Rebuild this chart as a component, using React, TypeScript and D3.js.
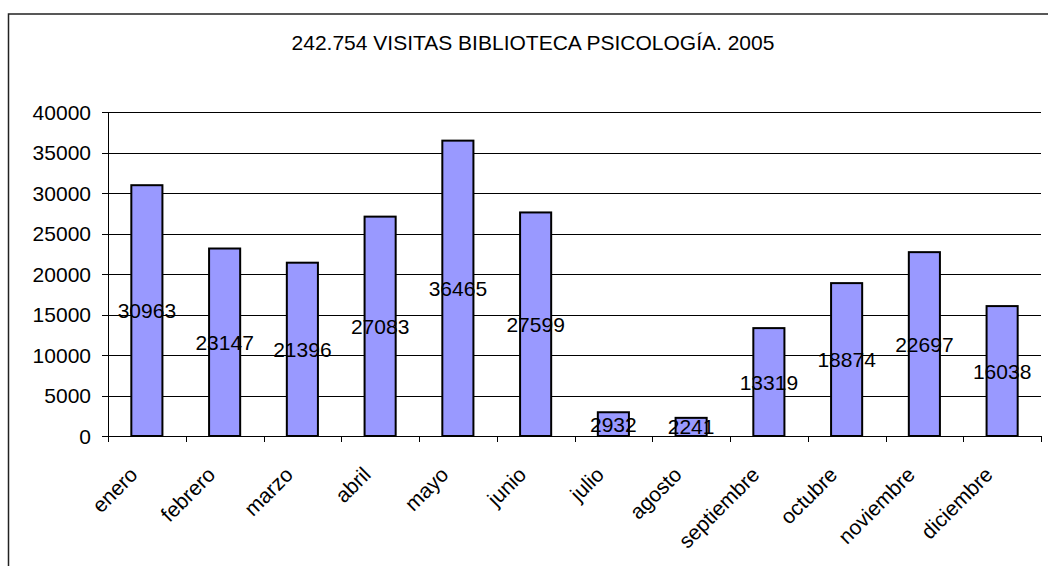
import React from "react";
import * as d3 from "d3";

const months = ["enero", "febrero", "marzo", "abril", "mayo", "junio", "julio", "agosto", "septiembre", "octubre", "noviembre", "diciembre"];
const visits = [30963, 23147, 21396, 27083, 36465, 27599, 2932, 2241, 13319, 18874, 22697, 16038];
const yTicks = [0, 5000, 10000, 15000, 20000, 25000, 30000, 35000, 40000];
const title = "242.754 VISITAS BIBLIOTECA PSICOLOGÍA. 2005";

const W = 1048, H = 566;
const left = 108, right = 1041, top = 112, bottom = 436;
const FONT = "'Liberation Sans', Arial, sans-serif";
const FS = 21;

export default function App() {
  const x = d3.scaleBand<string>().domain(months).range([left, right]).paddingInner(0.6).paddingOuter(0.3);
  const step = (right - left) / months.length;
  const y = d3.scaleLinear().domain([0, 40000]).range([bottom, top]);
  const cx = (m: string) => (x(m) as number) + x.bandwidth() / 2;

  return (
    <svg width={W} height={H} style={{ position: "absolute", left: 0, top: 0, background: "#fff" }} fontFamily={FONT}>
      <rect x={8.5} y={14} width={W + 20} height={H + 20} fill="#fff" stroke="#222" strokeWidth={1.5} />
      <text x={533} y={50} textAnchor="middle" fontSize={FS} fill="#000">{title}</text>
      {yTicks.map((t) => (
        <g key={t}>
          {t > 0 && <line x1={left} x2={right} y1={Math.round(y(t)) + 0.5} y2={Math.round(y(t)) + 0.5} stroke="#000" strokeWidth={1} />}
          <line x1={left - 6} x2={left} y1={Math.round(y(t)) + 0.5} y2={Math.round(y(t)) + 0.5} stroke="#000" strokeWidth={1} />
          <text x={91} y={y(t)} dy="0.36em" textAnchor="end" fontSize={FS} fill="#000">{t}</text>
        </g>
      ))}
      {months.map((m, i) => (
        <rect key={m} x={x(m)} y={y(visits[i])} width={x.bandwidth()} height={bottom - y(visits[i])} fill="#9999FF" stroke="#000" strokeWidth={2} />
      ))}
      <line x1={left + 0.5} x2={left + 0.5} y1={top} y2={bottom} stroke="#000" strokeWidth={1} />
      <line x1={left} x2={right} y1={bottom + 0.5} y2={bottom + 0.5} stroke="#000" strokeWidth={1} />
      {d3.range(months.length + 1).map((i) => (
        <line key={i} x1={Math.round(left + i * step) + 0.5} x2={Math.round(left + i * step) + 0.5} y1={bottom} y2={bottom + 6} stroke="#000" strokeWidth={1} />
      ))}
      {months.map((m, i) => (
        <text key={m} x={cx(m)} y={(y(visits[i]) + bottom) / 2} dy="0.36em" textAnchor="middle" fontSize={FS} fill="#000">{visits[i]}</text>
      ))}
      {months.map((m) => (
        <text key={m} transform={`translate(${cx(m) - 8},${476}) rotate(-45)`} textAnchor="end" fontSize={FS} fill="#000">{m}</text>
      ))}
    </svg>
  );
}
